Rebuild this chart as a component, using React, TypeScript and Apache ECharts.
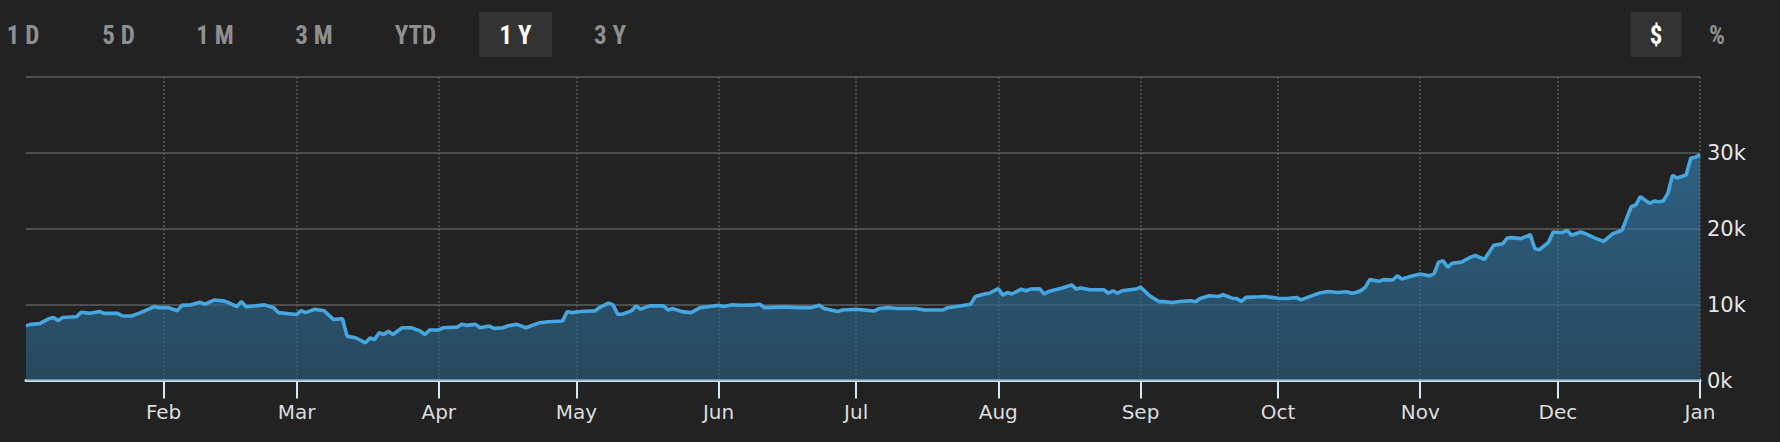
import React, { useEffect, useRef } from 'react';
import * as echarts from 'echarts';

const dates = [
  '2020-01-02','2020-01-03','2020-01-05','2020-01-07','2020-01-08','2020-01-09','2020-01-10','2020-01-13','2020-01-14','2020-01-16',
  '2020-01-18','2020-01-19','2020-01-22','2020-01-23','2020-01-25','2020-01-27','2020-01-30','2020-01-31','2020-02-02','2020-02-04',
  '2020-02-05','2020-02-07','2020-02-09','2020-02-10','2020-02-12','2020-02-14','2020-02-15','2020-02-17','2020-02-18','2020-02-19',
  '2020-02-23','2020-02-25','2020-02-26','2020-03-01','2020-03-02','2020-03-03','2020-03-05','2020-03-07','2020-03-09','2020-03-11',
  '2020-03-12','2020-03-14','2020-03-16','2020-03-17','2020-03-18','2020-03-19','2020-03-20','2020-03-21','2020-03-22','2020-03-24',
  '2020-03-26','2020-03-28','2020-03-29','2020-03-30','2020-04-01','2020-04-02','2020-04-05','2020-04-06','2020-04-07','2020-04-09',
  '2020-04-10','2020-04-12','2020-04-13','2020-04-15','2020-04-16','2020-04-18','2020-04-20','2020-04-23','2020-04-25','2020-04-28',
  '2020-04-29','2020-04-30','2020-05-02','2020-05-05','2020-05-06','2020-05-08','2020-05-09','2020-05-10','2020-05-11','2020-05-13',
  '2020-05-14','2020-05-15','2020-05-17','2020-05-20','2020-05-21','2020-05-22','2020-05-24','2020-05-26','2020-05-28','2020-05-30',
  '2020-06-01','2020-06-02','2020-06-04','2020-06-06','2020-06-09','2020-06-10','2020-06-11','2020-06-16','2020-06-18','2020-06-21',
  '2020-06-23','2020-06-24','2020-06-27','2020-06-28','2020-07-01','2020-07-05','2020-07-06','2020-07-08','2020-07-10','2020-07-14',
  '2020-07-16','2020-07-20','2020-07-21','2020-07-24','2020-07-26','2020-07-27','2020-07-29','2020-07-30','2020-08-01','2020-08-02',
  '2020-08-03','2020-08-04','2020-08-06','2020-08-07','2020-08-08','2020-08-10','2020-08-11','2020-08-12','2020-08-13','2020-08-15',
  '2020-08-17','2020-08-18','2020-08-19','2020-08-21','2020-08-24','2020-08-25','2020-08-26','2020-08-27','2020-08-28','2020-08-31',
  '2020-09-01','2020-09-03','2020-09-05','2020-09-06','2020-09-08','2020-09-10','2020-09-12','2020-09-13','2020-09-14','2020-09-16',
  '2020-09-18','2020-09-19','2020-09-21','2020-09-22','2020-09-23','2020-09-24','2020-09-27','2020-09-28','2020-10-01','2020-10-03',
  '2020-10-05','2020-10-06','2020-10-08','2020-10-10','2020-10-12','2020-10-14','2020-10-16','2020-10-17','2020-10-18','2020-10-19',
  '2020-10-20','2020-10-21','2020-10-23','2020-10-24','2020-10-26','2020-10-27','2020-10-28','2020-10-30','2020-11-01','2020-11-03',
  '2020-11-04','2020-11-05','2020-11-06','2020-11-07','2020-11-08','2020-11-10','2020-11-12','2020-11-13','2020-11-15','2020-11-17',
  '2020-11-19','2020-11-20','2020-11-21','2020-11-23','2020-11-25','2020-11-26','2020-11-27','2020-11-29','2020-11-30','2020-12-01',
  '2020-12-02','2020-12-03','2020-12-04','2020-12-06','2020-12-07','2020-12-09','2020-12-11','2020-12-13','2020-12-14','2020-12-15',
  '2020-12-17','2020-12-18','2020-12-19','2020-12-21','2020-12-22','2020-12-23','2020-12-24','2020-12-25','2020-12-26','2020-12-27',
  '2020-12-28','2020-12-29','2020-12-30','2020-12-31','2021-01-01',
];

const values = [
  7200,7400,7500,8150,8300,7900,8300,8400,9000,8850,
  9100,8850,8850,8500,8500,8950,9750,9600,9600,9200,
  9900,9970,10300,10050,10600,10500,10300,9750,10400,9700,
  9970,9600,8950,8700,9200,8950,9400,9200,8050,8150,
  5850,5600,4960,5600,5400,6300,6070,6500,6070,6960,
  6960,6500,6070,6650,6650,6960,7040,7400,7270,7400,
  6960,7180,6870,6960,7180,7400,6960,7620,7750,7840,
  9100,8950,9100,9170,9600,10200,9970,8730,8730,9170,
  9840,9400,9840,9840,9300,9480,9080,8950,9600,9750,
  9920,9750,9970,9920,9970,10060,9600,9700,9600,9600,
  9920,9480,9080,9300,9400,9170,9480,9600,9480,9480,
  9300,9300,9600,9840,10060,11080,11400,11500,12100,11250,
  11600,11400,12050,11830,12050,12100,11400,11740,11900,12200,
  12600,12050,12200,11960,11960,11500,11830,11500,11830,12050,
  12300,11170,10400,10400,10280,10450,10500,10370,10800,11170,
  11080,11300,10850,10800,10400,10950,11030,11080,10850,10800,
  10950,10630,11080,11520,11740,11600,11700,11500,11600,11830,
  12270,13300,13070,13300,13250,13800,13380,13730,14050,13800,
  14050,15600,15770,14930,15460,15600,16260,16480,15950,17810,
  18030,18790,18830,18700,19230,17370,17240,18250,19580,19500,
  19500,19800,19140,19580,19360,18790,18340,19360,19580,19800,
  22900,23130,24240,23350,23660,23570,23660,24680,27030,26680,
  26890,27120,29330,29420,29770,
];

const monthTicks = [
  '2020-02-01','2020-03-01','2020-04-01','2020-05-01','2020-06-01','2020-07-01',
  '2020-08-01','2020-09-01','2020-10-01','2020-11-01','2020-12-01','2021-01-01',
];
const monthNames = ['Jan','Feb','Mar','Apr','May','Jun','Jul','Aug','Sep','Oct','Nov','Dec'];
const xStart = '2020-01-02';
const xEnd = '2021-01-01';
const yMax = 40000;
const yStep = 10000;

const rangeButtons = ['1 D', '5 D', '1 M', '3 M', 'YTD', '1 Y', '3 Y'];
const selectedRange = '1 Y';
const unitButtons = ['$', '%'];
const selectedUnit = '$';

// layout (pixels)
const rangeCenters = [23, 118.5, 215, 314, 415.5, 515.5, 610];
const unitCenters = [1656, 1717];
const btnW = 73;
const unitBtnW = 51;
const btnTop = 12;
const btnH = 45;

const BTN_FONT = '"Liberation Sans Narrow", "Roboto Condensed", Roboto, "Liberation Sans", sans-serif';
const AXIS_FONT = '"DejaVu Sans", "Noto Sans", sans-serif';

const toTime = (s: string) => {
  const [y, m, d] = s.split('-').map(Number);
  return Date.UTC(y, m - 1, d);
};

export default function App() {
  const ref = useRef<HTMLDivElement>(null);

  useEffect(() => {
    document.body.style.margin = '0';
    document.body.style.background = '#222222';
    if (!ref.current) return;
    const chart = echarts.init(ref.current, undefined, { renderer: 'svg' });

    const tickValues = monthTicks.map(toTime);

    const graphics: any[] = [];
    const addButtons = (labels: string[], centers: number[], selected: string, w: number) => {
      labels.forEach((label, i) => {
        const sel = label === selected;
        if (sel) {
          graphics.push({
            type: 'rect',
            shape: { x: centers[i] - w / 2, y: btnTop, width: w, height: btnH },
            style: { fill: '#333333' },
          });
        }
        graphics.push({
          type: 'text',
          x: centers[i],
          y: btnTop + btnH / 2 + 0.5,
          style: {
            text: label,
            fill: sel ? '#ffffff' : '#8f8f8f',
            fontSize: 25,
            fontWeight: 'bold',
            fontFamily: BTN_FONT,
            align: 'center',
            verticalAlign: 'middle',
          },
        });
      });
    };
    addButtons(rangeButtons, rangeCenters, selectedRange, btnW);
    addButtons(unitButtons, unitCenters, selectedUnit, unitBtnW);

    chart.setOption({
      animation: false,
      backgroundColor: '#222222',
      grid: { left: 26, right: 80, top: 77, bottom: 61.5, outerBoundsMode: 'none' } as any,
      xAxis: {
        type: 'value',
        min: toTime(xStart),
        max: toTime(xEnd),
        axisLine: { show: true, onZero: false, lineStyle: { color: '#cfe3ef', width: 3 } },
        axisTick: {
          show: true,
          customValues: tickValues,
          length: 18,
          lineStyle: { color: '#d4e6f1', width: 2 },
        },
        axisLabel: {
          show: true,
          customValues: tickValues,
          formatter: (v: number) => monthNames[new Date(v).getUTCMonth()],
          color: '#dddddd',
          fontSize: 20,
          fontFamily: AXIS_FONT,
          margin: 21,
          hideOverlap: false,
          showMinLabel: true,
          showMaxLabel: true,
        },
        splitLine: {
          show: true,
          lineStyle: { color: '#5a5a5a', width: 1.5, type: [2, 2] },
        },
      },
      yAxis: {
        type: 'value',
        position: 'right',
        min: 0,
        max: yMax,
        interval: yStep,
        axisLine: { show: false },
        axisTick: { show: false },
        axisLabel: {
          formatter: (v: number) => (v >= yMax ? '' : `${v / 1000}k`),
          color: '#e4e4e4',
          fontSize: 21,
          fontFamily: AXIS_FONT,
          margin: 7,
        },
        splitLine: { show: true, lineStyle: { color: '#4e4e4e', width: 2 } },
      },
      series: [
        {
          type: 'line',
          data: dates.map((d, i) => [toTime(d), values[i]]),
          showSymbol: false,
          symbol: 'none',
          smooth: false,
          lineStyle: { color: '#46a7e0', width: 3.6 },
          itemStyle: { color: '#46a7e0' },
          areaStyle: {
            color: {
              type: 'linear',
              x: 0, y: 77, x2: 0, y2: 381,
              global: true,
              colorStops: [
                { offset: 0, color: 'rgba(54,146,208,0.9)' },
                { offset: 1, color: 'rgba(43,94,125,0.9)' },
              ],
            },
          },
        },
      ],
      graphic: graphics,
    });

    return () => chart.dispose();
  }, []);

  return <div ref={ref} style={{ width: 1780, height: 442 }} />;
}
